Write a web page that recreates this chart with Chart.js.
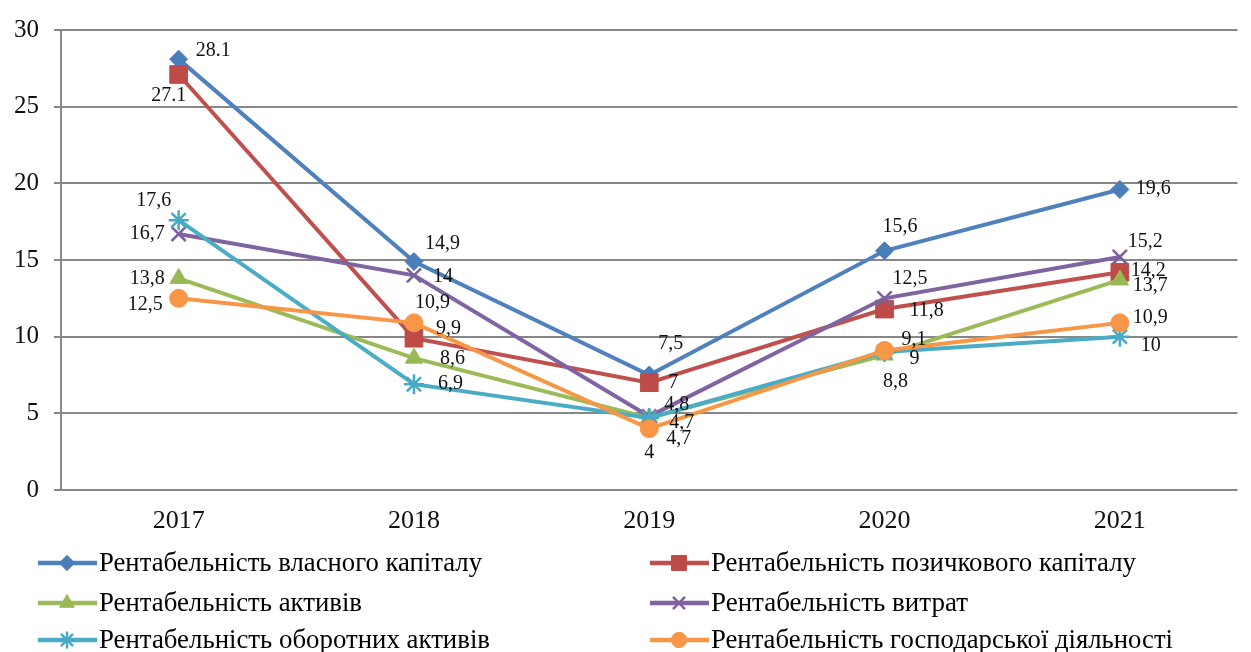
<!DOCTYPE html>
<html>
<head>
<meta charset="utf-8">
<script src="https://cdn.jsdelivr.net/npm/chart.js@4.4.0/dist/chart.umd.min.js"></script>
<style>
  html, body { margin: 0; padding: 0; background: #fff; }
  canvas { display: block; }
</style>
</head>
<body>
<canvas id="chart" width="1251" height="652"></canvas>
<script>
// years on the category axis
var years = ['2017', '2018', '2019', '2020', '2021'];
var yTicks = [0, 5, 10, 15, 20, 25, 30];

var seriesNames = [
  'Рентабельність власного капіталу',
  'Рентабельність позичкового капіталу',
  'Рентабельність активів',
  'Рентабельність витрат',
  'Рентабельність оборотних активів',
  'Рентабельність господарської діяльності'
];

var ownCapital = [28.1, 14.9, 7.5, 15.6, 19.6];
var borrowedCapital = [27.1, 9.9, 7, 11.8, 14.2];
var assets = [13.8, 8.6, 4.7, 8.8, 13.7];
var costs = [16.7, 14, 4.8, 12.5, 15.2];
var currentAssets = [17.6, 6.9, 4.7, 9, 10];
var business = [12.5, 10.9, 4, 9.1, 10.9];

var seriesValues = [ownCapital, borrowedCapital, assets, costs, currentAssets, business];

// styling per series
var lineColors = ['#4F81BD', '#C0504D', '#9BBB59', '#8064A2', '#4BACC6', '#F79646'];
var markerColors = ['#4A7EBB', '#BE4B48', '#98B954', '#7D60A0', '#46AAC5', '#F79646'];
var markerStyles = ['rectRot', 'rect', 'triangle', 'crossRot', 'star', 'circle'];
var markerSizes = [9, 12.5, 10, 10, 10, 9];

// label placement: [align, dx, dy] from each point
var labelPlacement = [
  [['left', 17, -8], ['left', 11, -18], ['left', 9, -31], ['left', -2, -24], ['left', 16, -1]],
  [['center', -10, 21], ['left', 22, -9], ['left', 19, 0], ['left', 25, 2], ['left', 11, -2]],
  [['right', -14, 0], ['left', 26, 1], ['left', 17, 21], ['center', 11, 27], ['left', 13, 6]],
  [['right', -14, 0], ['left', 19, 1], ['left', 15, -12], ['left', 8, -20], ['left', 8, -15]],
  [['center', -25, -19], ['left', 24, 0], ['left', 20, 5], ['left', 25, 7], ['left', 21, 9]],
  [['right', -16, 6], ['left', 1, -20], ['center', 0, 24], ['left', 17, -11], ['left', 13, -5]]
];
// these two labels are written with a point instead of a comma
var dotLabels = ['0-0', '1-0'];

var serif = '"Liberation Serif", "Times New Roman", serif';

function formatValue(si, i, v) {
  var s = String(v);
  if (dotLabels.indexOf(si + '-' + i) === -1) s = s.replace('.', ',');
  return s;
}

var datasets = seriesValues.map(function(vals, i) {
  return {
    label: seriesNames[i],
    data: vals,
    borderColor: lineColors[i],
    borderWidth: 4,
    tension: 0,
    pointStyle: markerStyles[i],
    pointRadius: markerSizes[i],
    pointHoverRadius: markerSizes[i],
    pointBackgroundColor: markerColors[i],
    pointBorderColor: markerColors[i],
    pointBorderWidth: (markerStyles[i] === 'crossRot' || markerStyles[i] === 'star') ? 2.5 : 1,
    order: seriesValues.length - i
  };
});

var valueLabels = {
  id: 'valueLabels',
  afterDatasetsDraw: function(chart) {
    var ctx = chart.ctx;
    ctx.save();
    ctx.font = '20px ' + serif;
    ctx.fillStyle = '#111';
    ctx.textBaseline = 'middle';
    chart.data.datasets.forEach(function(ds, si) {
      var meta = chart.getDatasetMeta(si);
      meta.data.forEach(function(pt, i) {
        var p = labelPlacement[si][i];
        ctx.textAlign = p[0];
        ctx.fillText(formatValue(si, i, ds.data[i]), pt.x + p[1], pt.y + p[2]);
      });
    });
    ctx.restore();
  }
};

// legend below the plot, two columns
var legendCols = [38, 650];
var legendRows = [563, 603, 640];
var legendTextWidths = [383, 425, 263, 257, 391, 462];

var bottomLegend = {
  id: 'bottomLegend',
  afterDraw: function(chart) {
    var ctx = chart.ctx;
    ctx.save();
    seriesNames.forEach(function(name, i) {
      var x = legendCols[i % 2];
      var y = legendRows[Math.floor(i / 2)];
      ctx.strokeStyle = lineColors[i];
      ctx.lineWidth = 4.5;
      ctx.beginPath();
      ctx.moveTo(x, y);
      ctx.lineTo(x + 59, y);
      ctx.stroke();
      ctx.fillStyle = markerColors[i];
      ctx.strokeStyle = markerColors[i];
      var bw = (markerStyles[i] === 'crossRot' || markerStyles[i] === 'star') ? 2.5 : 1;
      ctx.lineWidth = bw;
      Chart.helpers.drawPoint(ctx, {
        pointStyle: markerStyles[i],
        radius: markerSizes[i] * 0.85,
        rotation: 0,
        borderWidth: bw
      }, x + 29, y);

      ctx.font = '27px ' + serif;
      ctx.fillStyle = '#000';
      ctx.textAlign = 'left';
      ctx.textBaseline = 'middle';
      var w = ctx.measureText(name).width;
      var sx = legendTextWidths[i] / w;
      ctx.save();
      ctx.translate(x + 61, y);
      ctx.scale(sx, 1);
      ctx.fillText(name, 0, 1);
      ctx.restore();
    });
    ctx.restore();
  }
};

var whiteBg = {
  id: 'whiteBg',
  beforeDraw: function(chart) {
    var ctx = chart.ctx;
    ctx.save();
    ctx.fillStyle = '#fff';
    ctx.fillRect(0, 0, chart.width, chart.height);
    ctx.restore();
  }
};

var gridGrey = '#878787';

new Chart(document.getElementById('chart').getContext('2d'), {
  type: 'line',
  data: { labels: years, datasets: datasets },
  options: {
    responsive: false,
    animation: false,
    layout: { padding: { top: 23, right: 6, left: 0, bottom: 0 } },
    plugins: {
      legend: { display: false },
      tooltip: { enabled: false }
    },
    scales: {
      x: {
        offset: true,
        grid: { display: false, drawTicks: false },
        border: { display: false },
        ticks: { font: { family: serif, size: 26 }, color: '#111', padding: 16, maxRotation: 0 },
        afterFit: function(scale) { scale.height = 162; }
      },
      y: {
        min: 0,
        max: 30,
        afterBuildTicks: function(scale) {
          scale.ticks = yTicks.map(function(v) { return { value: v }; });
        },
        grid: { color: gridGrey, lineWidth: 2, tickLength: 7 },
        border: { color: gridGrey, width: 2 },
        ticks: { font: { family: serif, size: 25 }, color: '#111', padding: 15 },
        afterFit: function(scale) { scale.width = 61; }
      }
    }
  },
  plugins: [whiteBg, valueLabels, bottomLegend]
});
</script>
</body>
</html>
